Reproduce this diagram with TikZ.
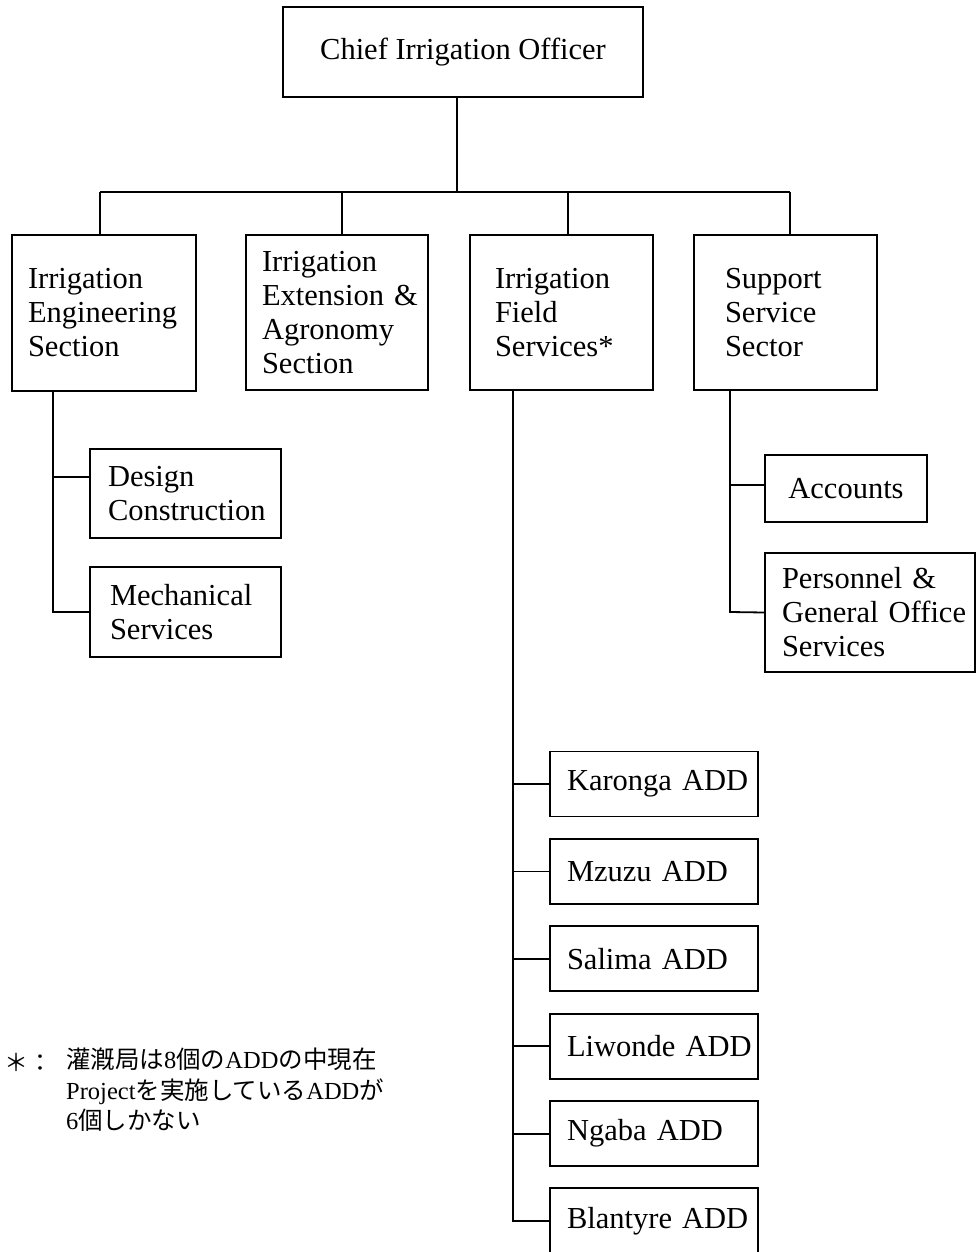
\documentclass[tikz,border=0pt]{standalone}
\usepackage{fontspec}
\setmainfont{Liberation Serif}
\newfontfamily\cjk{Noto Sans CJK JP}
\begin{document}
\begin{tikzpicture}[x=1pt,y=-1pt,
  every node/.style={font=\fontsize{30.5}{34}\selectfont},
  bx/.style={draw, line width=1.8pt, rectangle, inner ysep=0pt, align=left},
  ln/.style={line width=1.8pt}]
\useasboundingbox (0,0) rectangle (977,1252);
% top
\node[bx, align=center, minimum width=360, minimum height=90] (chief) at (463,52) {Chief Irrigation Officer};
% sections
\node[bx, inner xsep=16, text width=152, minimum height=156] (ies) at (104,313) {Irrigation\\Engineering\\Section};
\node[bx, inner xsep=16, text width=150, minimum height=155] (iea) at (337,312.5) {Irrigation\\\mbox{Extension \&}\\Agronomy\\Section};
\node[bx, inner xsep=25, text width=133, minimum height=155] (ifs) at (561.5,312.5) {Irrigation\\Field\\Services*};
\node[bx, inner xsep=31, text width=121, minimum height=155] (sss) at (785.5,312.5) {Support\\Service\\Sector};
% engineering units
\node[bx, inner xsep=18, text width=155, minimum height=89] (des) at (185.5,493.5) {Design\\Construction};
\node[bx, inner xsep=20, text width=151, minimum height=90] (mech) at (185.5,612) {Mechanical\\Services};
% support units
\node[bx, align=center, minimum width=162, minimum height=67] (acc) at (846,488.5) {Accounts};
\node[bx, inner xsep=17, text width=176, minimum height=119] (pers) at (870,612.5) {\mbox{Personnel \&}\\\mbox{General Office}\\Services};
% ADDs
\node[bx, inner xsep=17, text width=174, minimum height=65] (add1) at (654,784) {\mbox{Karonga ADD}};
\node[bx, inner xsep=17, text width=174, minimum height=65] (add2) at (654,871.4) {\mbox{Mzuzu ADD}};
\node[bx, inner xsep=17, text width=174, minimum height=65] (add3) at (654,958.8) {\mbox{Salima ADD}};
\node[bx, inner xsep=17, text width=174, minimum height=65] (add4) at (654,1046.2) {\mbox{Liwonde ADD}};
\node[bx, inner xsep=17, text width=174, minimum height=65] (add5) at (654,1133.6) {\mbox{Ngaba ADD}};
\node[bx, inner xsep=17, text width=174, minimum height=66] (add6) at (654,1221) {\mbox{Blantyre ADD}};
% footnote
\node[anchor=west, inner sep=0pt, font=\cjk\fontsize{24}{30}\selectfont] (star) at (4,1062) {＊：};
\node[anchor=north west, align=left, inner sep=0pt, font=\fontsize{24.5}{30.5}\selectfont] (note) at (66,1048)
  {{\cjk 灌漑局は}8{\cjk 個の}ADD{\cjk の中現在}\\Project{\cjk を実施している}ADD{\cjk が}\\6{\cjk 個しかない}};
% connectors
\coordinate (busC) at (457,192);
\coordinate (busL) at (100,192);
\coordinate (busR) at (790,192);
\coordinate (d2) at (342,192);
\coordinate (d3) at (568,192);
\draw[ln] (chief.south -| busC) -- (busC);
\draw[ln] (busL) -- (busR);
\draw[ln] (busL) -- (busL |- ies.north);
\draw[ln] (d2) -- (d2 |- iea.north);
\draw[ln] (d3) -- (d3 |- ifs.north);
\draw[ln] (busR) -- (busR |- sss.north);
% left spine
\coordinate (sL) at (53,612);
\coordinate (dj) at (53,477);
\draw[ln] (ies.south -| sL) -- (sL) -- (mech.west);
\draw[ln] (dj) -- (dj -| des.west);
% right spine
\coordinate (sR) at (730,612);
\coordinate (aj) at (730,485);
\draw[ln] (sss.south -| sR) -- (sR) -- (pers.west);
\draw[ln] (aj) -- (aj -| acc.west);
% middle spine
\coordinate (sM) at (513,0);
\draw[ln] (ifs.south -| sM) -- (sM |- add6.west) -- (add6.west);
\foreach \k in {1,...,5} {\draw[ln] (sM |- add\k.west) -- (add\k.west);}
\end{tikzpicture}
\end{document}
